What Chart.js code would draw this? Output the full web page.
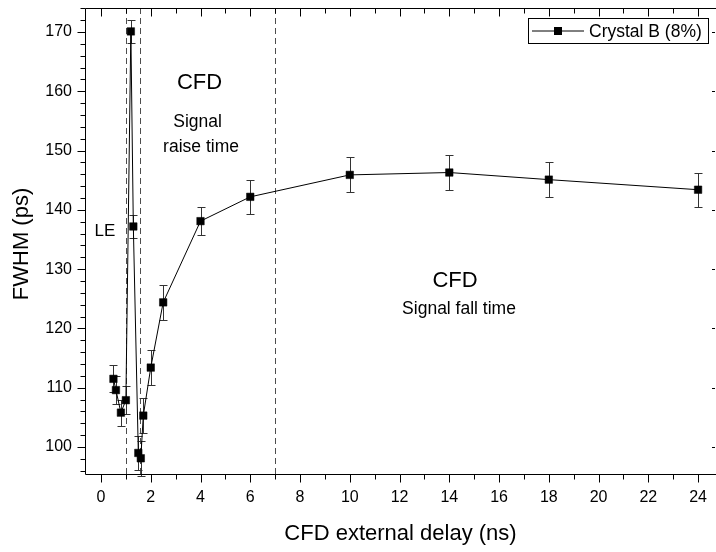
<!DOCTYPE html>
<html>
<head>
<meta charset="utf-8">
<script src="https://cdn.jsdelivr.net/npm/chart.js@4/dist/chart.umd.min.js"></script>
<style>
  html, body { margin: 0; padding: 0; background: #ffffff; }
  #wrap { width: 716px; height: 552px; position: relative; }
</style>
</head>
<body>
<div id="wrap"><canvas id="chart" width="716" height="552"></canvas></div>
<script>
// CFD external delay (ns) and the measured FWHM (ps) with its uncertainty
const delays  = [0.5, 0.6, 0.8, 1.0, 1.2, 1.3, 1.5, 1.6, 1.7, 2.0, 2.5, 4, 6, 10, 14, 18, 24];
const fwhm    = [111.5, 109.6, 105.8, 107.9, 170.1, 137.2, 99.0, 98.1, 105.3, 113.4, 124.4, 138.1, 142.2, 145.9, 146.3, 145.1, 143.4];
const fwhmErr = [2.3, 2.3, 2.2, 2.4, 1.9, 2.0, 2.9, 3.0, 3.0, 3.0, 2.9, 2.4, 2.9, 2.95, 2.9, 2.95, 2.9];

// delays separating the LE / rise-time / fall-time regimes
const regionBounds = [1.0, 1.57, 7.0];

// axis tick labels
const xTickValues = [0, 2, 4, 6, 8, 10, 12, 14, 16, 18, 20, 22, 24];
const yTickValues = [100, 110, 120, 130, 140, 150, 160, 170];

const seriesName = 'Crystal B (8%)';
const xTitle = 'CFD external delay (ns)';
const yTitle = 'FWHM (ps)';

const FONT = '"Liberation Sans", Arial, Helvetica, sans-serif';

// region captions, placed in data coordinates
const captions = [
  { text: 'LE',               x: 0.16,  y: 136.4,  size: 17 },
  { text: 'CFD',              x: 3.96,  y: 161.38, size: 22 },
  { text: 'Signal',           x: 3.88,  y: 154.78, size: 17.5 },
  { text: 'raise time',       x: 4.02,  y: 150.57, size: 17.5 },
  { text: 'CFD',              x: 14.23, y: 128.05, size: 22 },
  { text: 'Signal fall time', x: 14.39, y: 123.28, size: 17.5 }
];

const decorations = {
  id: 'decorations',
  beforeDatasetsDraw(chart) {
    const { ctx, chartArea: a, scales: { x, y } } = chart;
    ctx.save();
    // dashed regime boundaries
    ctx.strokeStyle = '#4d4d4d';
    ctx.lineWidth = 1;
    ctx.setLineDash([6, 4]);
    regionBounds.forEach(v => {
      const px = Math.round(x.getPixelForValue(v)) + 0.5;
      ctx.beginPath();
      ctx.moveTo(px, a.top);
      ctx.lineTo(px, a.bottom);
      ctx.stroke();
    });
    ctx.setLineDash([]);
    // error bars with caps
    ctx.strokeStyle = '#333333';
    delays.forEach((d, i) => {
      const px = Math.round(x.getPixelForValue(d)) + 0.5;
      const top = Math.round(y.getPixelForValue(fwhm[i] + fwhmErr[i])) + 0.5;
      const bot = Math.round(y.getPixelForValue(fwhm[i] - fwhmErr[i])) + 0.5;
      ctx.beginPath();
      ctx.moveTo(px, top); ctx.lineTo(px, bot);
      ctx.moveTo(px - 4, top); ctx.lineTo(px + 4, top);
      ctx.moveTo(px - 4, bot); ctx.lineTo(px + 4, bot);
      ctx.stroke();
    });
    ctx.restore();
  },
  afterDraw(chart) {
    const { ctx, chartArea: a, scales: { x, y } } = chart;
    ctx.save();
    ctx.strokeStyle = '#000000';
    ctx.lineWidth = 1;
    const L = a.left + 0.5, B = a.bottom + 0.5, T = a.top + 0.5, R = a.right;
    // frame (left, bottom, top)
    ctx.beginPath();
    ctx.moveTo(L, T); ctx.lineTo(L, B); ctx.lineTo(R, B);
    ctx.moveTo(L, T); ctx.lineTo(R, T);
    ctx.stroke();

    // x ticks: outward on the bottom, inward on the top
    ctx.beginPath();
    for (let v = Math.ceil(x.min); v <= x.max; v += 1) {
      const px = Math.round(x.getPixelForValue(v)) + 0.5;
      const len = (v % 2 === 0) ? 8 : 5;
      ctx.moveTo(px, B); ctx.lineTo(px, B + len);
      ctx.moveTo(px, T); ctx.lineTo(px, T + len);
    }
    // y ticks: outward on the left, inward stubs on the right
    for (let v = Math.ceil(y.min / 2) * 2; v <= y.max; v += 2) {
      const py = Math.round(y.getPixelForValue(v)) + 0.5;
      const major = v % 10 === 0;
      ctx.moveTo(L, py); ctx.lineTo(L - (major ? 8 : 5), py);
      if (major) { ctx.moveTo(R - 1, py); ctx.lineTo(R - 4, py); }
    }
    ctx.stroke();

    // captions
    ctx.fillStyle = '#000000';
    ctx.textAlign = 'center';
    ctx.textBaseline = 'middle';
    captions.forEach(c => {
      ctx.font = c.size + 'px ' + FONT;
      ctx.fillText(c.text, x.getPixelForValue(c.x), y.getPixelForValue(c.y));
    });

    // axis titles
    ctx.font = '22px ' + FONT;
    ctx.fillText(xTitle, (a.left + a.right) / 2, 534);
    ctx.save();
    ctx.translate(22, (a.top + a.bottom) / 2 + 3);
    ctx.rotate(-Math.PI / 2);
    ctx.fillText(yTitle, 0, 0);
    ctx.restore();

    // legend box
    const bx = 528.5, by = 18.5, bw = 180, bh = 25;
    ctx.fillStyle = '#ffffff';
    ctx.fillRect(bx, by, bw, bh);
    ctx.strokeRect(bx, by, bw, bh);
    ctx.beginPath();
    ctx.moveTo(532, by + bh / 2); ctx.lineTo(584, by + bh / 2);
    ctx.stroke();
    ctx.fillStyle = '#000000';
    ctx.fillRect(554, by + bh / 2 - 4, 8, 8);
    ctx.font = '17.5px ' + FONT;
    ctx.textAlign = 'left';
    ctx.fillText(seriesName, 589, by + bh / 2 + 1);
    ctx.restore();
  }
};

// scale boxes keep no extra padding, so the plot frame sits exactly where the layout puts it
function zeroPadding(s) {
  s.paddingTop = 0; s.paddingBottom = 0; s.paddingLeft = 0; s.paddingRight = 0;
}

new Chart(document.getElementById('chart'), {
  type: 'line',
  data: {
    datasets: [{
      label: seriesName,
      data: delays.map((d, i) => ({ x: d, y: fwhm[i] })),
      borderColor: '#000000',
      backgroundColor: '#000000',
      borderWidth: 1,
      tension: 0,
      pointStyle: 'rect',
      pointRadius: 5.3,
      pointBorderWidth: 0.5,
      pointBackgroundColor: '#000000',
      pointBorderColor: '#000000',
      clip: false
    }]
  },
  options: {
    responsive: false,
    devicePixelRatio: 1,
    animation: false,
    events: [],
    layout: { autoPadding: false, padding: { top: 8, right: 0, left: 0, bottom: 0 } },
    plugins: { legend: { display: false }, tooltip: { enabled: false } },
    scales: {
      x: {
        type: 'linear',
        min: -0.643,
        max: 24.72,
        grid: { display: false, drawTicks: false },
        border: { display: false },
        afterBuildTicks: s => { s.ticks = xTickValues.map(v => ({ value: v })); },
        afterFit: s => { s.height = 78; zeroPadding(s); },
        ticks: {
          color: '#000000',
          font: { family: FONT, size: 16 },
          padding: 14,
          maxRotation: 0,
          autoSkip: false
        }
      },
      y: {
        type: 'linear',
        min: 95.45,
        max: 174.05,
        grid: { display: false, drawTicks: false },
        border: { display: false },
        afterBuildTicks: s => { s.ticks = yTickValues.map(v => ({ value: v })); },
        afterFit: s => { s.width = 85; zeroPadding(s); },
        ticks: {
          color: '#000000',
          font: { family: FONT, size: 16 },
          padding: 13,
          autoSkip: false
        }
      }
    }
  },
  plugins: [decorations]
});
</script>
</body>
</html>
